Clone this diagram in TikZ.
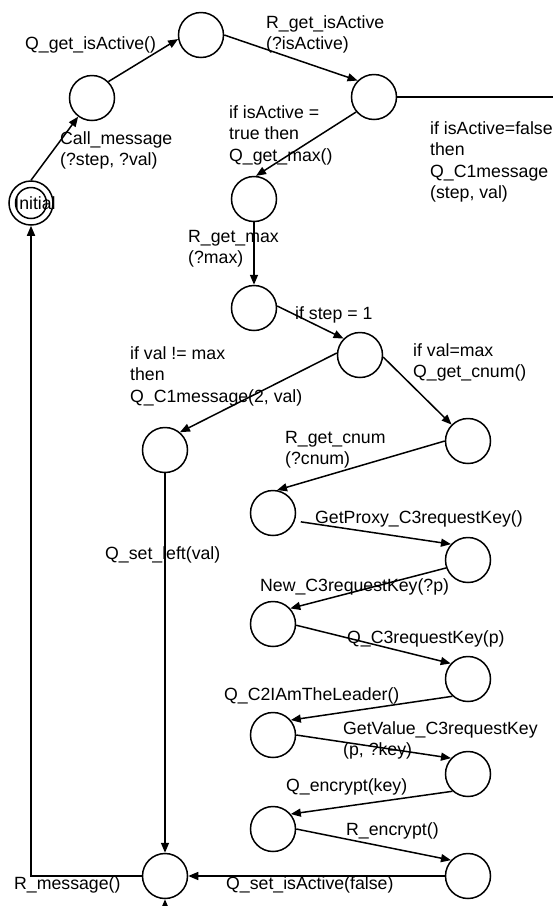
\documentclass[tikz,border=0pt]{standalone}
\usepackage{fontspec}
\setmainfont{Liberation Sans}
\usetikzlibrary{arrows.meta,calc}
\begin{document}
\begin{tikzpicture}[x=1pt,y=-1pt,
  state/.style={circle,draw,line width=1.5pt,minimum size=45pt,inner sep=0pt},
  initstate/.style={circle,draw,line width=1.5pt,minimum size=44pt,inner sep=0pt},
  lbl/.style={anchor=north west,inner sep=0pt,align=left,font=\fontsize{17.7}{21.5}\selectfont},
  edge/.style={line width=1.5pt,-{Triangle[length=10pt,width=8pt]}}]
\useasboundingbox (0,0) rectangle (553,906);
\clip (0,0) rectangle (553,906);
% states
\node[initstate] (init) at (31,203) {};
\draw[line width=1.5pt] (init.center) circle[radius=15.5pt];
\node[lbl,anchor=center] (tInit) at (35,203) {Initial};
\node[state] (n1) at (92,98) {};
\node[state] (n2) at (201,35) {};
\node[state] (n3) at (374,97) {};
\node[state] (n4) at (254,199) {};
\node[state] (n5) at (254,308) {};
\node[state] (n6) at (360,355) {};
\node[state] (n7) at (165,450) {};
\node[state] (n8) at (468,441) {};
\node[state] (n9) at (273,513) {};
\node[state] (n10) at (468,560) {};
\node[state] (n11) at (273,624) {};
\node[state] (n12) at (468,679) {};
\node[state] (n13) at (273,735) {};
\node[state] (n14) at (468,774) {};
\node[state] (n15) at (273,829) {};
\node[state] (n16) at (468,876) {};
\node[state] (fin) at (165,876) {};
\coordinate (offR) at (590,97);
\coordinate (offB) at (590,940);
% edges
\draw[edge] (init.north) -- (n1);
\draw[edge] (n1.45) -- (n2.190);
\draw[edge] (n2.east) -- (n3.135);
\draw[edge] (n3.220) -- (n4.85);
\draw[edge] (n4) -- (n5);
\draw[edge] (n5.5) -- (n6.135);
\draw[edge] (n6.175) -- (n7.50);
\draw[edge] (n6.-5) -- (n8.135);
\draw[edge] (n7) -- (fin);
\draw[edge] (n8.west) -- (n9.80);
\draw[edge,shorten <=6pt] (n9.-20) -- (n10.137);
\draw[edge] (n10.200) -- (n11.42);
\draw[edge] (n11.-3) -- (n12.138);
\draw[edge] (n12.228) -- (n13.40);
\draw[edge] (n13.east) -- (n14.137);
\draw[edge] (n14.228) -- (n15.40);
\draw[edge] (n15.east) -- (n16.137);
\draw[edge] (n16) -- (fin);
\draw[edge] (fin.west) -| (init.south);
\draw[edge] (n3.east) -- (offR) |- (offB -| fin) -- (fin.south);
% labels
\node[lbl] (l1) at (25,36) {Q\_get\_isActive()};
\node[lbl] (l2) at (60,131) {Call\_message\\(?step, ?val)};
\node[lbl] (l3) at (266,15) {R\_get\_isActive\\(?isActive)};
\node[lbl] (l4) at (229,105) {if isActive =\\true then\\Q\_get\_max()};
\node[lbl] (l5) at (430,121) {if isActive=false\\then\\Q\_C1message\\(step, val)};
\node[lbl] (l6) at (188,230) {R\_get\_max\\(?max)};
\node[lbl] (l7) at (295,306) {if step = 1};
\node[lbl] (l8) at (130,346) {if val != max\\then\\Q\_C1message(2, val)};
\node[lbl] (l9) at (413,343) {if val=max\\Q\_get\_cnum()};
\node[lbl] (l10) at (285,431) {R\_get\_cnum\\(?cnum)};
\node[lbl] (l11) at (315,510) {GetProxy\_C3requestKey()};
\node[lbl] (l12) at (260,578) {New\_C3requestKey(?p)};
\node[lbl] (l13) at (347,630) {Q\_C3requestKey(p)};
\node[lbl] (l14) at (105,546) {Q\_set\_left(val)};
\node[lbl] (l15) at (224,687) {Q\_C2IAmTheLeader()};
\node[lbl] (l16) at (343,721) {GetValue\_C3requestKey\\(p, ?key)};
\node[lbl] (l17) at (286,778) {Q\_encrypt(key)};
\node[lbl] (l18) at (346,822) {R\_encrypt()};
\node[lbl] (l19) at (14,876) {R\_message()};
\node[lbl] (l20) at (226,876) {Q\_set\_isActive(false)};
\end{tikzpicture}
\end{document}
